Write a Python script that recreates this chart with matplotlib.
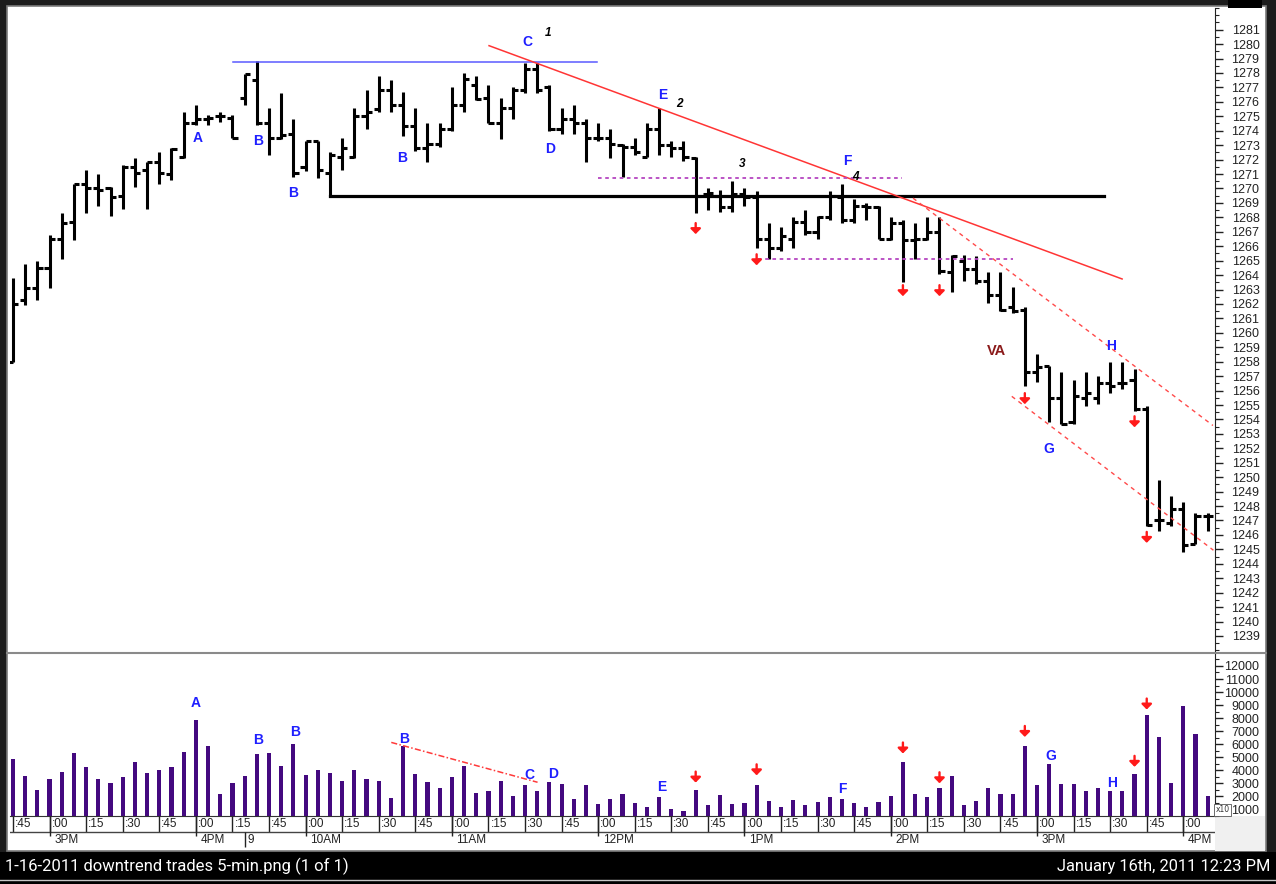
import matplotlib
matplotlib.use('Agg')
import matplotlib.pyplot as plt
from matplotlib.patches import Rectangle
from matplotlib.lines import Line2D
import numpy as np

# ---------------- data (5-min bars, 2:45PM day 1 -> 4:10PM day 2) ----------------
opens = [1258.0, 1262.3, 1263.1, 1264.5, 1266.5, 1267.7, 1270.3, 1270.0, 1270.0, 1269.5,
         1271.5, 1271.3, 1271.8, 1271.0, 1272.2, 1274.5, 1274.8, 1275.0, 1274.9, 1276.3,
         1277.5, 1274.5, 1273.5, 1273.8, 1271.5, 1273.3, 1271.1, 1272.2, 1272.2, 1275.0,
         1275.5, 1276.8, 1275.8, 1274.3, 1272.8, 1273.1, 1274.1, 1275.8, 1277.2, 1276.3,
         1274.5, 1275.6, 1276.8, 1278.3, 1277.0, 1274.1, 1274.8, 1274.5, 1273.5, 1273.5,
         1273.0, 1272.9, 1272.2, 1274.1, 1273.0, 1272.8, 1272.1, 1269.6, 1269.5, 1268.7,
         1269.6, 1269.4, 1266.5, 1265.9, 1266.5, 1267.7, 1267.0, 1268.0, 1269.4, 1267.8,
         1268.8, 1268.7, 1266.5, 1267.6, 1266.4, 1266.5, 1267.0, 1264.2, 1265.0, 1264.4,
         1263.6, 1262.6, 1261.8, 1261.6, 1257.3, 1257.7, 1255.5, 1253.8, 1255.5, 1255.5,
         1256.5, 1256.5, 1256.7, 1254.7, 1247.0, 1246.8, 1247.8, 1245.4, 1247.3]
highs = [1263.8, 1264.8, 1265.0, 1266.8, 1268.3, 1270.3, 1271.3, 1271.0, 1270.1, 1271.6,
         1272.1, 1271.8, 1272.5, 1272.8, 1275.3, 1275.8, 1275.1, 1275.3, 1275.1, 1277.9,
         1278.8, 1275.6, 1276.6, 1274.8, 1273.3, 1273.3, 1272.5, 1273.5, 1275.6, 1276.8,
         1277.8, 1277.5, 1276.7, 1275.6, 1274.5, 1274.5, 1277.0, 1278.0, 1277.8, 1277.2,
         1276.3, 1277.0, 1278.7, 1278.7, 1277.2, 1275.6, 1275.8, 1274.8, 1274.5, 1274.1,
         1273.1, 1273.5, 1274.5, 1275.6, 1273.3, 1273.3, 1272.2, 1270.0, 1269.9, 1270.5,
         1270.0, 1269.8, 1267.6, 1267.3, 1268.0, 1268.5, 1268.1, 1269.8, 1270.3, 1269.3,
         1269.0, 1268.8, 1268.0, 1267.8, 1267.6, 1268.0, 1268.0, 1265.4, 1265.4, 1265.3,
         1264.2, 1264.2, 1263.2, 1261.8, 1258.5, 1257.7, 1257.3, 1256.7, 1257.3, 1257.0,
         1258.0, 1258.0, 1257.5, 1254.9, 1249.8, 1248.7, 1248.3, 1247.5, 1247.5]
lows = [1258.0, 1261.9, 1262.3, 1263.1, 1265.1, 1266.4, 1268.3, 1268.8, 1268.1, 1268.6,
        1270.1, 1268.6, 1270.3, 1270.6, 1272.1, 1274.4, 1274.4, 1274.6, 1273.5, 1275.8,
        1274.4, 1272.3, 1273.4, 1270.8, 1271.2, 1270.7, 1269.4, 1271.3, 1272.1, 1274.1,
        1275.3, 1275.3, 1273.6, 1272.6, 1271.8, 1272.9, 1274.0, 1275.3, 1276.1, 1274.5,
        1273.4, 1274.8, 1276.6, 1276.6, 1274.0, 1273.8, 1273.8, 1271.8, 1273.3, 1272.1,
        1270.8, 1272.3, 1272.2, 1272.3, 1272.2, 1271.9, 1268.3, 1268.5, 1268.4, 1268.4,
        1268.8, 1265.9, 1265.1, 1265.7, 1265.9, 1266.8, 1266.5, 1267.8, 1267.6, 1267.6,
        1267.8, 1266.5, 1266.4, 1263.5, 1265.1, 1266.4, 1264.1, 1262.8, 1263.6, 1263.4,
        1262.1, 1261.5, 1261.4, 1256.3, 1256.6, 1253.8, 1253.7, 1253.7, 1254.9, 1255.1,
        1255.8, 1256.1, 1254.6, 1246.6, 1246.3, 1246.6, 1244.8, 1245.4, 1246.3]
closes = [1262.0, 1263.1, 1264.5, 1266.5, 1267.6, 1270.3, 1270.0, 1269.9, 1269.4, 1271.5,
          1271.1, 1271.8, 1271.1, 1272.7, 1274.5, 1274.8, 1274.9, 1275.0, 1273.5, 1277.9,
          1274.5, 1273.5, 1273.7, 1271.1, 1273.3, 1271.3, 1272.3, 1272.8, 1275.0, 1275.3,
          1276.8, 1275.8, 1274.3, 1272.8, 1273.1, 1274.1, 1275.8, 1277.6, 1276.2, 1274.5,
          1275.6, 1276.8, 1278.3, 1276.8, 1274.1, 1274.8, 1274.5, 1273.5, 1273.5, 1273.1,
          1272.9, 1272.5, 1274.1, 1273.0, 1272.8, 1272.2, 1269.5, 1269.7, 1268.7, 1269.6,
          1269.4, 1266.5, 1265.9, 1266.7, 1267.7, 1267.0, 1268.0, 1269.5, 1267.8, 1268.8,
          1268.7, 1266.5, 1267.6, 1266.4, 1266.5, 1267.0, 1264.3, 1265.3, 1264.4, 1263.6,
          1262.6, 1261.6, 1261.5, 1257.3, 1257.6, 1255.5, 1253.7, 1255.6, 1255.8, 1256.5,
          1256.3, 1256.5, 1254.7, 1246.7, 1247.0, 1247.8, 1245.3, 1247.3, 1247.3]
volumes = [4870, 3550, 2530, 3350, 3850, 5300, 4290, 3350, 3040, 3500,
           4640, 3780, 4010, 4240, 5380, 7880, 5890, 2150, 3040, 3550,
           5250, 5300, 4360, 6040, 3620, 4010, 3780, 3190, 4060, 3350,
           3190, 1890, 5840, 3700, 3120, 2680, 3500, 4310, 2250, 2380,
           3190, 2020, 2840, 2380, 3120, 2960, 1790, 2840, 1430, 1770,
           2220, 1490, 1210, 1920, 1050, 850, 2500, 1360, 2100, 1440,
           1510, 2910, 1640, 1210, 1720, 1310, 1590, 1940, 1790, 1510,
           1210, 1590, 2020, 4640, 2220, 1940, 2680, 3550, 1360, 1640,
           2610, 2150, 2220, 5890, 2840, 4490, 2960, 2960, 2380, 2660,
           2450, 2450, 3750, 8230, 6530, 3040, 8950, 6760, 2020]

tick15_idx = [0, 3, 6, 9, 12, 15, 18, 21, 24, 27, 30, 33, 36, 39, 42, 45, 48, 51,
              54, 57, 60, 63, 66, 69, 72, 75, 78, 81, 84, 87, 90, 93, 96]
tick15_labels = [':45', ':00', ':15', ':30', ':45', ':00', ':15', ':45', ':00', ':15',
                 ':30', ':45', ':00', ':15', ':30', ':45', ':00', ':15', ':30', ':45',
                 ':00', ':15', ':30', ':45', ':00', ':15', ':30', ':45', ':00', ':15',
                 ':30', ':45', ':00']
hour_idx = [3, 15, 24, 36, 48, 60, 72, 84, 96]
hour_labels = ['3PM', '4PM', '10AM', '11AM', '12PM', '1PM', '2PM', '3PM', '4PM']
day_idx = 19
day_label = '9'
price_ticks = list(range(1239, 1282))
vol_ticks = list(range(1000, 13000, 1000))

# annotations (bar index, value, text)
price_letters = [(15.15, 1273.49, 'A'), (20.12, 1273.26, 'B'), (22.94, 1269.69, 'B'),
                 (31.89, 1272.11, 'B'), (42.17, 1280.17, 'C'), (44.05, 1272.76, 'D'),
                 (53.26, 1276.44, 'E'), (68.44, 1271.93, 'F'), (90.05, 1259.10, 'H'),
                 (84.93, 1251.96, 'G')]
price_numbers = [(43.89, 1280.79, '1'), (54.66, 1275.84, '2'), (59.78, 1271.72, '3'),
                 (69.13, 1270.78, '4')]
price_arrows = [(56, 1267.22), (61, 1265.06), (73, 1262.92), (76, 1262.92),
                (83, 1255.44), (92, 1253.84), (93, 1245.83)]
vol_letters = [(15.01, 9197, 'A'), (20.10, 6348, 'B'), (23.18, 6936, 'B'),
               (32.08, 6424, 'B'), (42.38, 3674, 'C'), (44.27, 3750, 'D'),
               (53.21, 2734, 'E'), (68.06, 2581, 'F'), (85.10, 5125, 'G'),
               (90.16, 3040, 'H')]
vol_arrows = [(56, 3483), (61, 4040), (73, 5713), (76, 3430), (83, 6982),
              (92, 4690), (93, 9083)]

# ---------------- figure ----------------
W, H = 1276, 884
fig = plt.figure(figsize=(W / 100, H / 100), dpi=100, facecolor='#1c1c1c')


def fr(x0, y0, x1, y1):
    return [x0 / W, 1 - y1 / H, (x1 - x0) / W, (y1 - y0) / H]


def frect(x0, y0, x1, y1, fc, ec='none', lw=0, z=-10):
    fig.patches.append(Rectangle((x0 / W, 1 - y1 / H), (x1 - x0) / W, (y1 - y0) / H,
                                 transform=fig.transFigure, facecolor=fc,
                                 edgecolor=ec, lw=lw, zorder=z))


frect(7, 6, 1266, 851, 'white', ec='#7a7a7a', lw=1.2, z=-12)
frect(1215, 816, 1265, 851, '#f0f0f0', z=-11)
frect(0, 852, 1276, 884, 'black')
frect(1228, 0, 1262, 8, 'black')
fig.lines.append(Line2D([0, 1], [1 - 880 / H] * 2, transform=fig.transFigure,
                        color='#c8c8c8', lw=1, zorder=-9))
fig.lines.append(Line2D([7 / W, 1266 / W], [1 - 652.5 / H] * 2, transform=fig.transFigure,
                        color='#8a8a8a', lw=1.5, zorder=-9))

XL = (-0.246, 98.6)
LBL = dict(family='Liberation Sans')
idx = np.arange(len(opens))

# ---------------- price panel ----------------
ax = fig.add_axes(fr(10, 8, 1215, 651))
ax.set_xlim(*XL)
ax.set_ylim(1237.96, 1282.38)
ax.patch.set_alpha(0)
for s in ['top', 'left', 'bottom']:
    ax.spines[s].set_visible(False)
ax.spines['right'].set_color('#222222')
ax.yaxis.tick_right()
ax.set_xticks([])
ax.set_yticks(price_ticks)
ax.set_yticks(np.arange(1238, 1282.6, 0.5), minor=True)
ax.tick_params(axis='y', which='major', length=5.5, width=1, pad=26.5,
               labelsize=9, colors='#222222')
ax.tick_params(axis='y', which='minor', length=2.8, width=0.8, colors='#222222')
for t in ax.get_yticklabels():
    t.set_ha('right')
    t.set_family('Liberation Sans')

ax.vlines(idx, lows, highs, color='black', lw=2.2)
ax.hlines(opens, idx - 0.42, idx, color='black', lw=2.2)
ax.hlines(closes, idx, idx + 0.42, color='black', lw=2.2)

# lines
ax.plot([18.05, 47.9], [1278.79, 1278.79], color='#5a5aff', lw=1.1)
ax.plot([26.0, 89.5], [1269.45, 1269.45], color='black', lw=2.3)
ax.plot([39.05, 90.98], [1279.89, 1263.73], color='#ff3535', lw=1.1)
ax.plot([73.83, 98.43], [1269.33, 1253.58], color='#ff4a4a', lw=1.0, ls=(0, (3, 3)))
ax.plot([81.93, 98.47], [1255.60, 1244.94], color='#ff4a4a', lw=1.0, ls=(0, (3, 3)))
ax.plot([48.0, 72.9], [1270.72, 1270.72], color='#b545c0', lw=1.3, ls=(0, (2, 2)))
ax.plot([61.14, 82.06], [1265.13, 1265.13], color='#b545c0', lw=1.3, ls=(0, (2, 2)))

for x, y, s in price_letters:
    ax.text(x, y, s, color='#1f1fff', fontsize=10, fontweight='bold',
            ha='center', va='center', **LBL)
for x, y, s in price_numbers:
    ax.text(x, y, s, color='black', fontsize=8.5, fontweight='bold', style='italic',
            ha='center', va='center', **LBL)
ax.text(80.64, 1258.76, 'VA', color='#8b1a1a', fontsize=10.5, fontweight='bold',
        ha='center', va='center', **LBL)


def arrow(a, x, yc, half):
    a.annotate('', xy=(x, yc - half), xytext=(x, yc + half),
               arrowprops=dict(arrowstyle='-|>,head_width=0.3,head_length=0.3',
                               color='#ff1a1a', lw=1.7, mutation_scale=10,
                               shrinkA=0, shrinkB=0))


for x, y in price_arrows:
    arrow(ax, x, y, 0.38)

# ---------------- volume panel ----------------
vax = fig.add_axes(fr(10, 654, 1215, 816))
vax.set_xlim(*XL)
vax.set_ylim(542, 12918)
vax.patch.set_alpha(0)
for s in ['top', 'left']:
    vax.spines[s].set_visible(False)
vax.spines['right'].set_color('#222222')
vax.spines['bottom'].set_color('#333333')
vax.yaxis.tick_right()
vax.set_xticks([])
vax.set_yticks(vol_ticks)
vax.set_yticks(np.arange(500, 12900, 500), minor=True)
vax.tick_params(axis='y', which='major', length=5.5, width=1, pad=26.5,
                labelsize=9, colors='#222222')
vax.tick_params(axis='y', which='minor', length=2.8, width=0.8, colors='#222222')
for t in vax.get_yticklabels():
    t.set_ha('right')
    t.set_family('Liberation Sans')

vax.bar(idx, volumes, width=0.34, color='#44097f')
vax.plot([31.03, 43.03], [6141, 3086], color='#ff3a3a', lw=1.1, ls=(0, (4, 1.5, 1, 1.5)))
for x, y, s in vol_letters:
    vax.text(x, y, s, color='#1f1fff', fontsize=10, fontweight='bold',
             ha='center', va='center', **LBL)
for x, y in vol_arrows:
    arrow(vax, x, y, 420)

fig.text(1222.5 / W, 1 - 810 / H, 'x10', fontsize=5.5, ha='center', va='center',
         color='#333333', bbox=dict(boxstyle='square,pad=0.15', fc='white',
                                    ec='#555555', lw=0.6))

# ---------------- time strip ----------------
tax = fig.add_axes(fr(10, 816, 1215, 851))
tax.set_xlim(*XL)
tax.set_ylim(35, 0)
tax.axis('off')
tax.vlines(tick15_idx, 0, 16, color='#222222', lw=1)
for k, s in zip(tick15_idx, tick15_labels):
    tax.text(k + 0.16, 8.3, s, ha='left', va='center', fontsize=8.5,
             color='#222222', **LBL)
tax.plot([XL[0], XL[1]], [16, 16], color='#444444', lw=1)
tax.vlines(hour_idx, 0, 19.5, color='#222222', lw=1)
for k, s in zip(hour_idx, hour_labels):
    tax.text(k + 0.38, 23.8, s, ha='left', va='center', fontsize=8.5,
             color='#222222', **LBL)
tax.vlines([day_idx], 16, 31, color='#222222', lw=1)
tax.text(day_idx + 0.2, 23.8, day_label, ha='left', va='center', fontsize=8.5,
         color='#222222', **LBL)

# ---------------- status bar ----------------
fig.text(5 / W, 1 - 866 / H, '1-16-2011 downtrend trades 5-min.png (1 of 1)',
         color='white', fontsize=12, ha='left', va='center', family='Roboto')
fig.text(1270 / W, 1 - 866 / H, 'January 16th, 2011 12:23 PM',
         color='white', fontsize=11.8, ha='right', va='center', family='Roboto')

fig.savefig('out.png', dpi=100, facecolor=fig.get_facecolor())
